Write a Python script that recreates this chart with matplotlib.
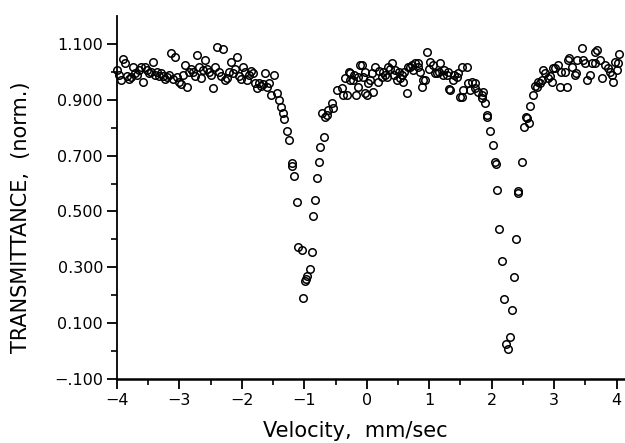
import matplotlib
matplotlib.use("Agg")
import matplotlib.pyplot as plt
from matplotlib.ticker import FixedLocator

# ---- data (velocity mm/s, normalised transmittance) ----
region_a_v = [-4.000, -3.968, -3.936, -3.904, -3.872, -3.840, -3.808, -3.776, -3.744, -3.712,
              -3.680, -3.648, -3.616, -3.584, -3.552, -3.520, -3.488, -3.456, -3.424, -3.392,
              -3.360, -3.328, -3.296, -3.264, -3.232, -3.200, -3.168, -3.136, -3.104, -3.072,
              -3.040, -3.008, -2.976, -2.944, -2.912, -2.880, -2.848, -2.816, -2.784, -2.752,
              -2.720, -2.688, -2.656, -2.624, -2.592, -2.560, -2.528, -2.496, -2.464, -2.432,
              -2.400, -2.368, -2.336, -2.304, -2.272, -2.240, -2.208, -2.176, -2.144, -2.112,
              -2.080, -2.048, -2.016, -1.984, -1.952, -1.920, -1.888, -1.856, -1.824, -1.792,
              -1.760, -1.728, -1.696, -1.664, -1.632, -1.600, -1.568]
region_a_t = [1.007, 0.990, 0.971, 1.046, 1.030, 0.985, 0.975, 0.982, 1.018, 0.996,
              0.990, 1.005, 1.018, 0.964, 1.018, 1.005, 0.995, 1.000, 1.036, 0.990,
              1.000, 0.985, 0.996, 0.985, 0.975, 0.982, 0.990, 1.068, 0.975, 1.053,
              0.982, 0.964, 0.955, 0.990, 1.025, 0.946, 1.000, 1.010, 1.000, 0.985,
              1.060, 1.018, 0.978, 1.005, 1.043, 1.010, 1.000, 0.990, 0.942, 1.018,
              1.089, 1.000, 0.985, 1.082, 0.970, 0.978, 1.000, 1.036, 0.996, 1.010,
              1.053, 0.985, 0.975, 1.018, 1.000, 0.971, 0.990, 1.003, 0.995, 0.960,
              0.942, 0.960, 0.950, 0.955, 0.996, 0.946, 0.960]

dip1_v = [-1.536, -1.488, -1.440, -1.408, -1.376, -1.344, -1.328, -1.280, -1.248, -1.200,
          -1.190, -1.168, -1.120, -1.104, -1.040, -1.024, -0.992, -0.976, -0.960, -0.912,
          -0.880, -0.864, -0.832, -0.800, -0.768, -0.752, -0.720, -0.690]
dip1_t = [0.917, 0.989, 0.924, 0.900, 0.874, 0.853, 0.831, 0.788, 0.756, 0.674,
          0.664, 0.627, 0.534, 0.373, 0.362, 0.190, 0.251, 0.258, 0.270, 0.294,
          0.355, 0.484, 0.541, 0.620, 0.677, 0.731, 0.853, 0.767]

region_b_v = [-0.672, -0.640, -0.624, -0.560, -0.544, -0.480, -0.400, -0.384, -0.352, -0.320,
              -0.288, -0.272, -0.272, -0.224, -0.200, -0.176, -0.144, -0.144, -0.112, -0.080,
              -0.064, -0.032, -0.030, 0.000, 0.016, 0.048, 0.080, 0.096, 0.128, 0.176,
              0.190, 0.240, 0.256, 0.288, 0.320, 0.336, 0.370, 0.400, 0.430, 0.448,
              0.480, 0.520, 0.528, 0.560, 0.576, 0.600, 0.640, 0.656, 0.688, 0.720,
              0.736, 0.768, 0.816, 0.816, 0.850, 0.880, 0.896, 0.928, 0.960, 1.000,
              1.008, 1.056, 1.088, 1.120, 1.150, 1.168, 1.216, 1.240, 1.280, 1.296,
              1.312, 1.328, 1.376, 1.400, 1.440, 1.456, 1.488, 1.520, 1.520, 1.536,
              1.600, 1.616, 1.648, 1.680, 1.728, 1.728, 1.776, 1.840, 1.840, 1.856,
              1.888]
region_b_t = [0.839, 0.846, 0.864, 0.889, 0.871, 0.935, 0.942, 0.917, 0.978, 0.917,
              1.000, 0.971, 0.996, 0.971, 0.990, 0.917, 0.946, 0.982, 1.025, 1.025,
              0.982, 0.924, 1.000, 0.917, 0.960, 0.971, 0.996, 0.928, 1.018, 0.964,
              1.003, 0.982, 1.000, 0.989, 0.982, 1.018, 1.010, 1.032, 0.990, 1.007,
              0.971, 1.000, 0.978, 0.989, 0.964, 1.000, 0.924, 1.018, 1.018, 1.025,
              1.007, 1.032, 1.018, 1.032, 1.000, 0.946, 0.971, 0.971, 1.071, 1.010,
              1.036, 1.025, 0.996, 0.996, 1.000, 1.032, 0.989, 1.005, 0.989, 1.000,
              0.939, 0.935, 0.971, 0.990, 0.982, 0.996, 0.910, 0.910, 1.018, 0.935,
              1.018, 0.960, 0.935, 0.964, 0.942, 0.960, 0.928, 0.907, 0.917, 0.928,
              0.889]

dip2_v = [1.920, 1.930, 1.968, 2.016, 2.048, 2.064, 2.080, 2.112, 2.160, 2.192,
          2.224, 2.256, 2.288, 2.320, 2.352, 2.384, 2.416, 2.420, 2.480, 2.512,
          2.544, 2.560, 2.592, 2.608, 2.656]
dip2_t = [0.846, 0.840, 0.788, 0.738, 0.677, 0.670, 0.577, 0.437, 0.323, 0.187,
          0.026, 0.008, 0.051, 0.147, 0.266, 0.402, 0.573, 0.566, 0.677, 0.803,
          0.839, 0.835, 0.817, 0.878, 0.917]

region_c_v = [2.688, 2.720, 2.736, 2.768, 2.800, 2.816, 2.848, 2.896, 2.928, 2.960,
              2.976, 3.008, 3.056, 3.088, 3.104, 3.168, 3.200, 3.216, 3.232, 3.280,
              3.328, 3.344, 3.360, 3.440, 3.456, 3.488, 3.520, 3.568, 3.600, 3.648,
              3.648, 3.680, 3.728, 3.760, 3.808, 3.856, 3.888, 3.920, 3.936, 3.968,
              4.000, 4.016, 4.032]
region_c_t = [0.950, 0.946, 0.964, 0.960, 0.971, 1.007, 0.996, 0.978, 0.985, 0.964,
              1.014, 1.014, 1.025, 0.946, 1.000, 1.000, 0.946, 1.043, 1.050, 1.018,
              0.989, 0.996, 1.043, 1.086, 1.043, 1.032, 0.971, 0.989, 1.032, 1.071,
              1.032, 1.079, 1.043, 0.978, 1.025, 1.014, 1.000, 0.989, 0.964, 1.036,
              1.007, 1.030, 1.064]

velocity = region_a_v + dip1_v + region_b_v + dip2_v + region_c_v
transmittance = region_a_t + dip1_t + region_b_t + dip2_t + region_c_t

y_ticks = [-0.1, 0.1, 0.3, 0.5, 0.7, 0.9, 1.1]
y_tick_labels = ['\u2212.100', '0.100', '0.300', '0.500', '0.700', '0.900', '1.100']
x_ticks = [-4, -3, -2, -1, 0, 1, 2, 3, 4]
x_tick_labels = ['\u22124', '\u22123', '\u22122', '\u22121', '0', '1', '2', '3', '4']

plt.rcParams['font.family'] = ['DejaVu Sans']

fig = plt.figure(figsize=(6.25, 4.43), dpi=100)
ax = fig.add_axes([117 / 625, 64 / 443, 507 / 625, 363 / 443])

ax.plot(velocity, transmittance, linestyle='none', marker='o', markersize=5.4,
        markerfacecolor='none', markeredgecolor='black', markeredgewidth=1.1, clip_on=False)

ax.set_xlim(-4.0, 4.12)
ax.set_ylim(-0.1, 1.2)

for s in ['top', 'right']:
    ax.spines[s].set_visible(False)
ax.spines['left'].set_linewidth(1.3)
ax.spines['bottom'].set_linewidth(1.8)

ax.yaxis.set_major_locator(FixedLocator(y_ticks))
ax.set_yticklabels(y_tick_labels)
ax.yaxis.set_minor_locator(FixedLocator([0.0, 0.2, 0.4, 0.6, 0.8, 1.0]))
ax.xaxis.set_major_locator(FixedLocator(x_ticks))
ax.set_xticklabels(x_tick_labels)
ax.xaxis.set_minor_locator(FixedLocator([-3.5, -2.5, -1.5, -0.5, 0.5, 1.5, 2.5, 3.5]))

ax.tick_params(axis='both', which='major', direction='out', length=7, width=1.3,
               labelsize=11.5, colors='black', pad=3)
ax.tick_params(axis='both', which='minor', direction='out', length=4, width=1.2)

ax.set_xlabel('Velocity,  mm/sec', fontsize=15)
ax.xaxis.set_label_coords(0.471, -0.115)
ax.set_ylabel('TRANSMITTANCE,  (norm.)', fontsize=15)
ax.yaxis.set_label_coords(-0.17, 0.445)

fig.savefig('out.png', dpi=100)
